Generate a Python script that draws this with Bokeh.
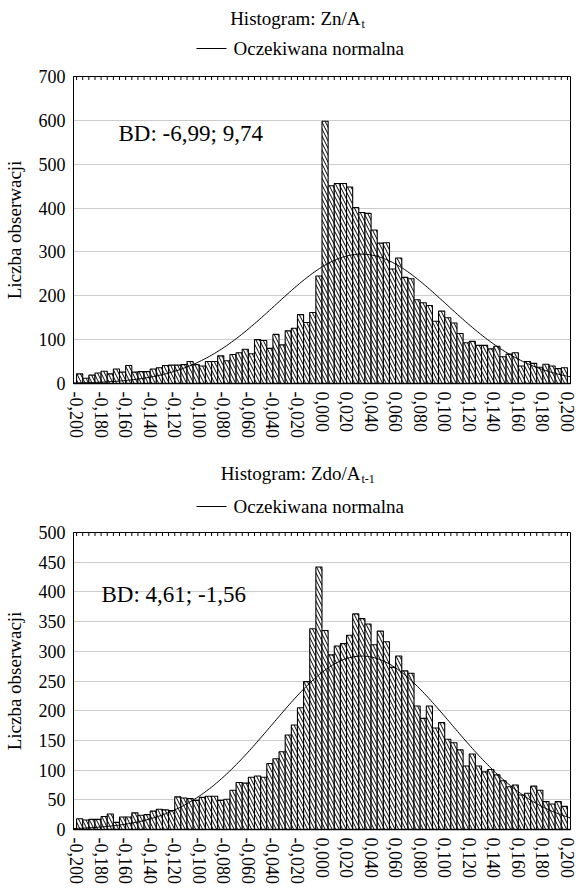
import numpy as np
from bokeh.plotting import figure
from bokeh.models import Range1d, FixedTicker, Label, CustomJSTickFormatter
from bokeh.layouts import column
from bokeh.embed import file_html
from bokeh.resources import INLINE
from bokeh.core.properties import value

# ---------------- data ----------------
BIN_WIDTH = 0.005
X_MIN, X_MAX = -0.2, 0.2
x_ticks = [-0.2, -0.18, -0.16, -0.14, -0.12, -0.10, -0.08, -0.06, -0.04, -0.02, 0.0,
           0.02, 0.04, 0.06, 0.08, 0.10, 0.12, 0.14, 0.16, 0.18, 0.2]

# counts per bin (80 bins of width 0.005 from -0.2 to 0.2)
counts_zn = [22, 12, 19, 24, 28, 22, 33, 26, 41, 26,
             27, 27, 33, 36, 41, 42, 42, 43, 50, 43,
             40, 50, 50, 63, 52, 66, 70, 78, 68, 100,
             98, 80, 112, 88, 120, 126, 157, 139, 162, 245,
             598, 451, 456, 456, 448, 401, 390, 388, 350, 320,
             321, 261, 286, 242, 239, 191, 184, 178, 142, 165,
             150, 138, 114, 93, 96, 87, 87, 79, 85, 61,
             67, 70, 40, 50, 46, 37, 44, 40, 34, 36]

counts_zdo = [18, 16, 17, 17, 22, 26, 12, 21, 21, 28,
              24, 25, 31, 34, 33, 32, 55, 53, 52, 49,
              54, 56, 56, 49, 51, 66, 79, 78, 88, 90,
              88, 111, 119, 131, 159, 176, 205, 249, 338, 442,
              335, 294, 309, 313, 327, 363, 355, 346, 311, 334,
              316, 273, 292, 267, 263, 208, 187, 208, 171, 180,
              152, 146, 134, 107, 127, 107, 97, 101, 92, 82,
              72, 75, 58, 61, 73, 66, 47, 43, 47, 39]

# expected normal curves: mean, std dev, peak height
normal_zn = dict(mean=0.032, sd=0.070, peak=295)
normal_zdo = dict(mean=0.0325, sd=0.073, peak=292)

y_ticks_zn = [0, 100, 200, 300, 400, 500, 600, 700]
y_ticks_zdo = [0, 50, 100, 150, 200, 250, 300, 350, 400, 450, 500]

titles_zn = ("Histogram: Zn/A", "t")
titles_zdo = ("Histogram: Zdo/A", "t-1")
legend_text = "Oczekiwana normalna"
bd_zn = "BD: -6,99; 9,74"
bd_zdo = "BD: 4,61; -1,56"

FONT = "Liberation Serif"
W = 579
BORDER_L, BORDER_R = 73, 9


def make_header(height, title_main, title_sub, title_y, legend_y):
    # the column aligns this figure's frame with the histogram frames,
    # so its x range spans the same pixel columns as those frames
    h = figure(width=W, height=height,
               x_range=Range1d(BORDER_L, W - BORDER_R), y_range=Range1d(height, 0),
               x_axis_type=None, y_axis_type=None, title=None,
               min_border=0, min_border_left=BORDER_L, min_border_right=BORDER_R,
               min_border_top=0, min_border_bottom=0,
               toolbar_location=None, output_backend="svg")
    h.outline_line_color = None
    h.text(x=[360], y=[title_y], text=[title_main], text_font=value(FONT),
           text_font_size="19px", text_align="right", text_baseline="middle",
           text_color="black")
    h.text(x=[361], y=[title_y + 5], text=[title_sub], text_font=value(FONT),
           text_font_size="12px", text_align="left", text_baseline="middle",
           text_color="black")
    h.line(x=[196, 226], y=[legend_y, legend_y], line_color="black", line_width=1)
    h.text(x=[233], y=[legend_y], text=[legend_text], text_font=value(FONT),
           text_font_size="19px", text_align="left", text_baseline="middle",
           text_color="black")
    return h


def make_hist(counts, normal, y_max, y_ticks, bd_text, height, border_top, frame_h,
              bd_x, bd_y):
    n = len(counts)
    edges = [X_MIN + i * BIN_WIDTH for i in range(n + 1)]
    pad = BIN_WIDTH / 2
    p = figure(width=W, height=height,
               x_range=Range1d(X_MIN - pad, X_MAX + pad),
               y_range=Range1d(0, y_max), title=None,
               output_backend="svg", toolbar_location=None,
               min_border_left=BORDER_L, min_border_right=BORDER_R,
               min_border_top=border_top,
               min_border_bottom=height - border_top - frame_h,
               background_fill_color="white", border_fill_color="white")
    p.outline_line_color = "black"
    p.outline_line_width = 1
    p.xgrid.visible = False
    p.ygrid.grid_line_color = "#cccccc"
    p.ygrid.grid_line_width = 1
    p.ygrid.ticker = FixedTicker(ticks=y_ticks)

    p.quad(left=edges[:-1], right=edges[1:], bottom=0, top=counts,
           fill_color="white", line_color="black", line_width=1.1,
           hatch_pattern="\\", hatch_color="black", hatch_scale=7, hatch_weight=1)

    xs = np.linspace(X_MIN - pad, X_MAX + pad, 300)
    ys = normal["peak"] * np.exp(-0.5 * ((xs - normal["mean"]) / normal["sd"]) ** 2)
    p.line(xs, ys, line_color="black", line_width=1)

    # small inward ticks along the top edge at every bin boundary
    tick_len = y_max * 3.5 / frame_h
    p.segment(x0=edges, x1=edges, y0=[y_max] * len(edges),
              y1=[y_max - tick_len] * len(edges), line_color="black", line_width=1)

    xa = p.xaxis[0]
    xa.ticker = FixedTicker(ticks=x_ticks)
    xa.formatter = CustomJSTickFormatter(code="return tick.toFixed(3).replace('.', ',');")
    xa.major_label_orientation = "vertical"
    xa.major_label_text_font = FONT
    xa.major_label_text_font_size = "18px"
    xa.major_label_text_color = "black"
    xa.major_tick_out = 0
    xa.major_tick_in = 0
    xa.minor_tick_line_color = None
    xa.major_label_standoff = 8
    xa.axis_line_color = "black"
    xa.axis_line_width = 1.5

    ya = p.yaxis[0]
    ya.ticker = FixedTicker(ticks=y_ticks)
    ya.major_label_text_font = FONT
    ya.major_label_text_font_size = "18px"
    ya.major_label_text_color = "black"
    ya.major_tick_out = 0
    ya.major_tick_in = 0
    ya.minor_tick_line_color = None
    ya.major_label_standoff = 8
    ya.axis_label = "Liczba obserwacji"
    ya.axis_label_text_font = FONT
    ya.axis_label_text_font_size = "19px"
    ya.axis_label_text_font_style = "normal"
    ya.axis_label_text_color = "black"
    ya.axis_label_standoff = 11
    ya.axis_line_color = "black"

    p.add_layout(Label(x=bd_x, y=bd_y, x_units="screen", y_units="screen", text=bd_text,
                       text_font=FONT, text_font_size="23px", text_align="left",
                       text_baseline="middle", text_color="black"))
    return p


h1 = make_header(64, titles_zn[0], titles_zn[1], title_y=18, legend_y=48)
p1 = make_hist(counts_zn, normal_zn, 700, y_ticks_zn, bd_zn,
               height=376, border_top=12, frame_h=307, bd_x=45, bd_y=250)
h2 = make_header(80, titles_zdo[0], titles_zdo[1], title_y=33, legend_y=66)
p2 = make_hist(counts_zdo, normal_zdo, 500, y_ticks_zdo, bd_zdo,
               height=366, border_top=12, frame_h=298, bd_x=28, bd_y=235)

layout = column(h1, p1, h2, p2, spacing=0)
open("out.html", "w").write(file_html(layout, INLINE))
